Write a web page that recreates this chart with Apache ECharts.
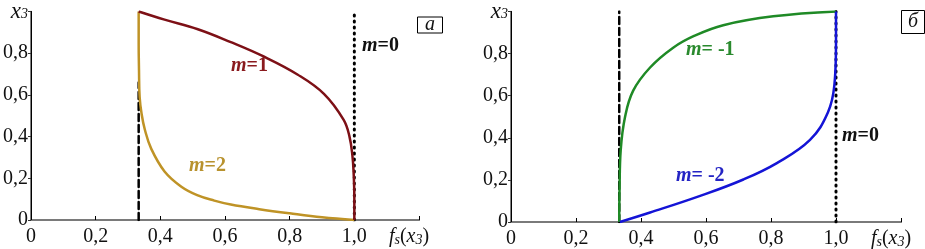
<!DOCTYPE html>
<html>
<head>
<meta charset="utf-8">
<script src="https://cdn.jsdelivr.net/npm/echarts@6/dist/echarts.min.js"></script>
<style>
  html, body { margin: 0; padding: 0; background: #fff; }
  #chart { width: 925px; height: 249px; }
</style>
</head>
<body>
<div id="chart"></div>
<script>
// ось x: f_s(x_3), ось y: x_3
const xTickLabels = ["0", "0,2", "0,4", "0,6", "0,8", "1,0"];
const yTickLabels = ["0", "0,2", "0,4", "0,6", "0,8"];

// панель а
const curveM1 = [[0.333, 1], [0.413, 0.961], [0.516, 0.915], [0.618, 0.853], [0.721, 0.783], [0.824, 0.698],
  [0.906, 0.605], [0.967, 0.48], [0.985, 0.4], [0.994, 0.31], [0.998, 0.22], [1, 0.1], [1, 0]];
const curveM2 = [[0.333, 1], [0.333, 0.85], [0.334, 0.72], [0.336, 0.589], [0.342, 0.51], [0.352, 0.434],
  [0.372, 0.341], [0.413, 0.233], [0.465, 0.16], [0.516, 0.118], [0.567, 0.093], [0.618, 0.074],
  [0.706, 0.052], [0.8, 0.032], [0.9, 0.013], [1, 0]];
const dashedA = [[0.333, 0], [0.333, 0.66]];
const dottedA = [[1, 0], [1, 1]];

// панель б
const curveMneg1 = [[0.333, 0], [0.334, 0.15], [0.3375, 0.34], [0.351, 0.5], [0.376, 0.624], [0.428, 0.734],
  [0.499, 0.828], [0.565, 0.885], [0.653, 0.935], [0.807, 0.977], [1, 1]];
const curveMneg2 = [[0.335, 0], [0.428, 0.045], [0.582, 0.124], [0.715, 0.202], [0.818, 0.28], [0.92, 0.39],
  [0.975, 0.52], [0.995, 0.65], [1, 0.85], [1, 1]];
const dashedB = [[0.333, 0], [0.333, 1]];
const dottedB = [[1, 0], [1, 1]];

const serif = "Liberation Serif";

let myChart = echarts.init(document.getElementById("chart"));

function xLabel(v) {
  let i = Math.round(v / 0.2);
  if (i < xTickLabels.length) return xTickLabels[i];
  return "{i|f}{sub|s}{n|(}{i|x}{sub|3}{n|)}{gap|}";
}
function yLabel(v) {
  let i = Math.round(v / 0.2);
  if (i < yTickLabels.length) return yTickLabels[i];
  return "{xi|x}{sub|3}";
}
const richText = {
  i: { fontFamily: serif, fontStyle: "italic", fontSize: 20, color: "#111", lineHeight: 20 },
  xi: { fontFamily: serif, fontStyle: "italic", fontSize: 23, color: "#111", lineHeight: 20 },
  n: { fontFamily: serif, fontSize: 20, color: "#111", lineHeight: 20 },
  sub: { fontFamily: serif, fontStyle: "italic", fontSize: 14, color: "#111", lineHeight: 12, verticalAlign: "bottom", padding: [6, 0, 0, 0] },
  gap: { width: 20 }
};

function mainX(grid) {
  return {
    gridIndex: grid, type: "value", min: 0, max: 1.2, interval: 0.2,
    axisLine: { show: true, lineStyle: { color: "#000", width: 1.5 } },
    axisTick: { show: true, length: 4, inside: true, lineStyle: { color: "#000" } },
    splitLine: { show: false },
    axisLabel: { fontFamily: serif, fontSize: 20, color: "#111", margin: 7, formatter: xLabel, rich: richText }
  };
}
function topX(grid) {
  return {
    gridIndex: grid, type: "value", min: 0, max: 1.2, position: "top",
    axisLine: { show: true, lineStyle: { color: "#7a7a7a", width: 2 } },
    axisTick: { show: false }, axisLabel: { show: false }, splitLine: { show: false }
  };
}
function mainY(grid) {
  return {
    gridIndex: grid, type: "value", min: 0, max: 1, interval: 0.2,
    axisLine: { show: true, lineStyle: { color: "#555", width: 1.5 } },
    axisTick: { show: true, length: 3, lineStyle: { color: "#333" } },
    splitLine: { show: false },
    axisLabel: { fontFamily: serif, fontSize: 20, color: "#111", margin: 3, formatter: yLabel, rich: richText }
  };
}
function rightY(grid) {
  return {
    gridIndex: grid, type: "value", min: 0, max: 1, position: "right",
    axisLine: { show: true, lineStyle: { color: "#000", width: 1 } },
    axisTick: { show: false }, axisLabel: { show: false }, splitLine: { show: false }
  };
}

function curve(data, color, xi, yi) {
  return {
    type: "line", data: data, xAxisIndex: xi, yAxisIndex: yi,
    showSymbol: false, smooth: 0.4, silent: true,
    lineStyle: { color: color, width: 2.5 }
  };
}
function refLine(data, dash, width, xi, yi) {
  return {
    type: "line", data: data, xAxisIndex: xi, yAxisIndex: yi,
    showSymbol: false, silent: true,
    lineStyle: { color: "#000", width: width, type: dash, cap: "round" }
  };
}

function mLabel(x, y, val, color) {
  return {
    type: "text", left: x, top: y,
    style: {
      text: "{m|m}{v|" + val + "}",
      rich: {
        m: { fontFamily: serif, fontStyle: "italic", fontWeight: "bold", fontSize: 20, fill: color },
        v: { fontFamily: serif, fontWeight: "bold", fontSize: 20, fill: color }
      }
    }
  };
}
function panelTag(x, y, w, h, t) {
  return {
    type: "group", left: x, top: y,
    children: [
      { type: "rect", shape: { x: 0, y: 0, width: w, height: h }, style: { fill: "#fff", stroke: "#000", lineWidth: 1 } },
      { type: "text", x: w / 2, y: h / 2, style: { text: t, fontFamily: serif, fontStyle: "italic", fontSize: 20, fill: "#111", align: "center", verticalAlign: "middle" } }
    ]
  };
}

let option = {
  animation: false,
  backgroundColor: "#fff",
  grid: [
    { left: 29, top: 5, width: 390, height: 215 },
    { left: 511, top: 10, width: 390, height: 213 }
  ],
  xAxis: [mainX(0), topX(0), mainX(1), topX(1)],
  yAxis: [mainY(0), rightY(0), mainY(1), rightY(1)],
  series: [
    refLine(dashedA, [7, 4], 2.5, 0, 0),
    refLine(dottedA, [1, 5], 3, 0, 0),
    curve(curveM2, "#bf9326", 0, 0),
    curve(curveM1, "#7d1016", 0, 0),
    refLine(dashedB, [7, 4], 2.5, 2, 2),
    refLine(dottedB, [1, 5], 3, 2, 2),
    curve(curveMneg1, "#1f8a26", 2, 2),
    curve(curveMneg2, "#1414d6", 2, 2)
  ],
  graphic: [
    mLabel(231, 56, "=1", "#8a1a1e"),
    mLabel(189, 156, "=2", "#b8922e"),
    mLabel(362, 36, "=0", "#111"),
    mLabel(686, 40, "= -1", "#2a8a2e"),
    mLabel(676, 166, "= -2", "#2424c4"),
    mLabel(842, 126, "=0", "#111"),
    panelTag(417, 15, 25, 16, "а"),
    panelTag(901, 10, 23, 23, "б")
  ]
};

myChart.setOption(option, true);
</script>
</body>
</html>
